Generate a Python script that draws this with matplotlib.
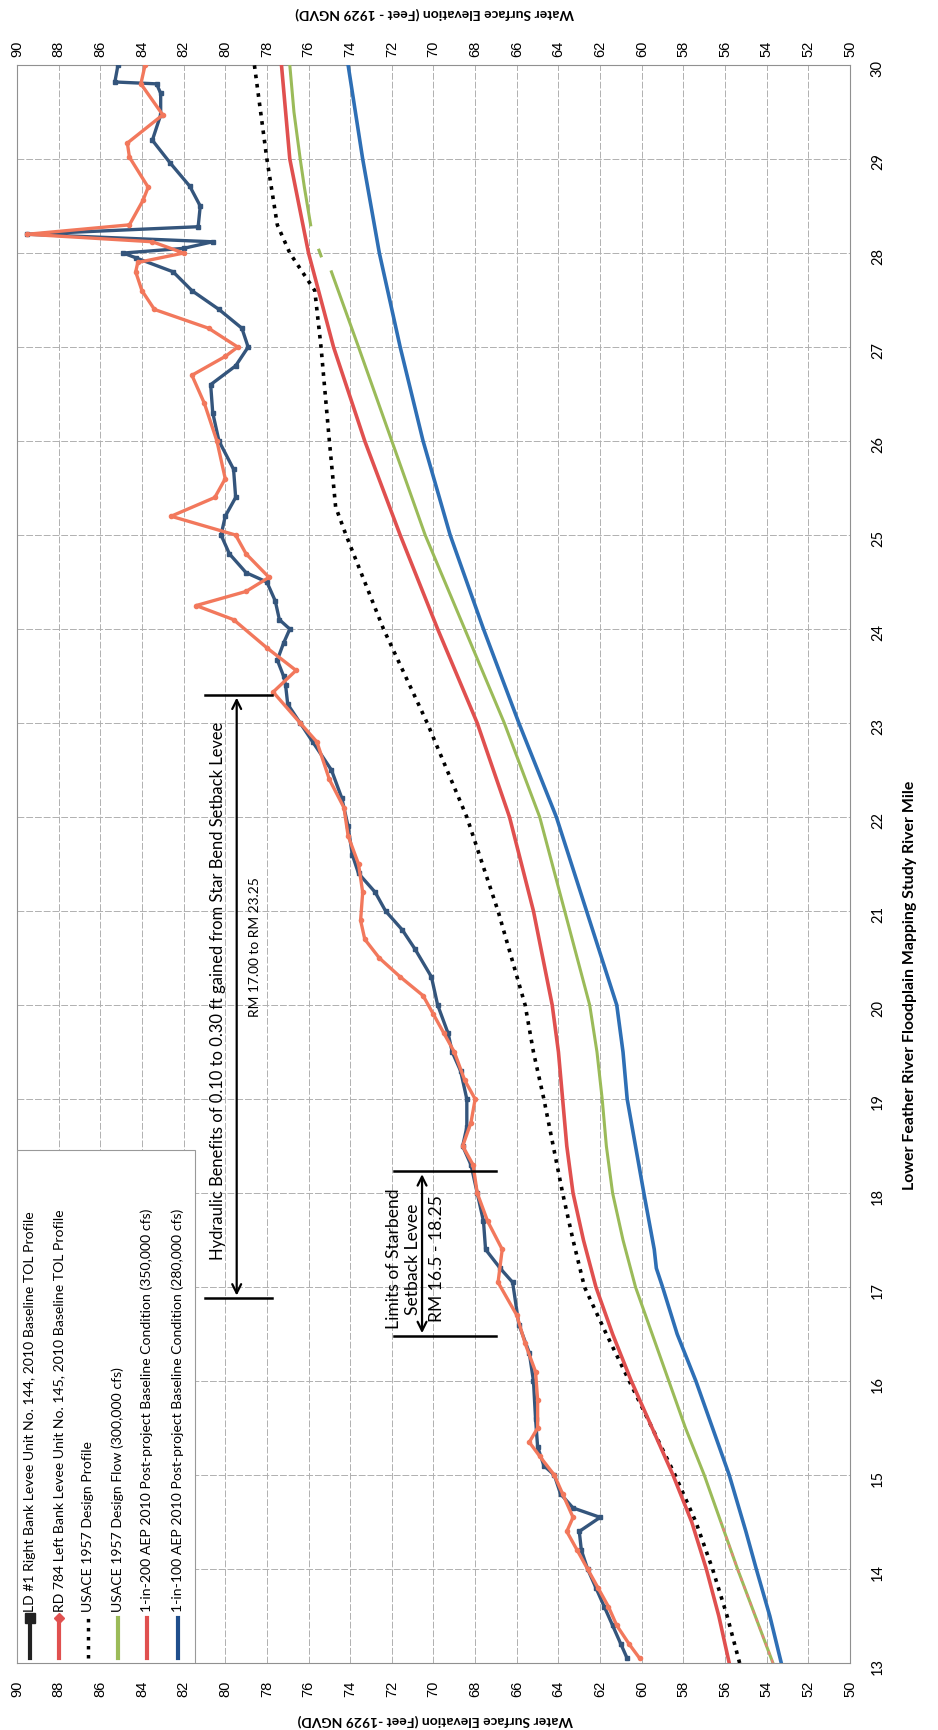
import matplotlib
matplotlib.use('Agg')
import matplotlib.pyplot as plt
from matplotlib.lines import Line2D
from matplotlib.patches import Rectangle

CAL = ['Lato', 'DejaVu Sans']
ARIAL = ['Liberation Sans', 'DejaVu Sans']

# LD #1 right bank levee crown (river mile, elevation)
ld_rm = [13.05, 13.2, 13.4, 13.6, 13.8, 14.0, 14.2, 14.4, 14.55, 14.65, 14.8, 15.0, 15.1, 15.3,
         15.6, 16.0, 16.3, 16.6, 17.05, 17.2, 17.4, 17.7, 18.0, 18.3, 18.5, 18.7, 19.0, 19.3,
         19.5, 19.7, 20.0, 20.3, 20.6, 20.8, 21.0, 21.2, 21.4, 21.6, 21.9, 22.2, 22.5, 22.8,
         23.0, 23.2, 23.4, 23.5, 23.67, 23.85, 24.0, 24.1, 24.3, 24.5, 24.6, 24.8, 25.0, 25.2,
         25.4, 25.7, 26.0, 26.3, 26.6, 26.8, 27.0, 27.2, 27.4, 27.6, 27.8, 27.95, 28.0, 28.05,
         28.12, 28.2, 28.28, 28.5, 28.71, 28.96, 29.2, 29.47, 29.7, 29.8, 29.82, 30.0]
ld_el = [60.7, 61.0, 61.4, 61.8, 62.2, 62.6, 62.9, 63.0, 62.0, 63.3, 63.9, 64.2, 64.7, 65.0,
         65.1, 65.2, 65.4, 65.9, 66.2, 66.8, 67.5, 67.6, 67.9, 68.2, 68.6, 68.4, 68.4, 68.7,
         69.1, 69.3, 69.8, 70.1, 70.9, 71.5, 72.3, 72.8, 73.6, 73.9, 74.1, 74.4, 74.9, 75.8,
         76.4, 77.0, 77.1, 77.2, 77.5, 77.2, 76.9, 77.4, 77.6, 78.0, 79.0, 79.8, 80.2, 80.0,
         79.5, 79.6, 80.3, 80.6, 80.7, 79.5, 78.9, 79.2, 80.3, 81.6, 82.5, 84.3, 84.9, 82.0,
         80.6, 89.5, 81.3, 81.2, 81.7, 82.65, 83.5, 83.1, 83.1, 83.3, 85.3, 85.15]

# RD 784 left bank levee crown
rd_rm = [13.05, 13.2, 13.4, 13.6, 13.8, 14.0, 14.2, 14.4, 14.55, 14.8, 15.0, 15.2, 15.35, 15.5,
         15.8, 16.1, 16.4, 16.7, 17.05, 17.4, 17.7, 18.0, 18.3, 18.5, 18.75, 19.0, 19.2, 19.5,
         19.7, 19.9, 20.1, 20.3, 20.5, 20.7, 20.9, 21.2, 21.5, 21.8, 22.1, 22.4, 22.8, 23.0,
         23.33, 23.56, 23.8, 24.1, 24.25, 24.4, 24.55, 24.8, 25.0, 25.2, 25.4, 25.6, 26.0, 26.4,
         26.7, 26.9, 27.0, 27.2, 27.4, 27.6, 27.8, 27.9, 28.0, 28.12, 28.2, 28.3, 28.56, 28.7,
         29.02, 29.17, 29.47, 29.8, 30.0]
rd_el = [60.1, 60.6, 61.2, 61.6, 62.1, 62.6, 63.1, 63.6, 63.3, 63.8, 64.2, 64.9, 65.4, 65.0,
         65.0, 65.1, 65.6, 66.0, 66.9, 66.7, 67.4, 67.9, 68.1, 68.6, 68.2, 68.0, 68.5, 69.0,
         69.5, 70.0, 70.5, 71.6, 72.6, 73.3, 73.5, 73.4, 73.6, 74.1, 74.3, 75.0, 75.6, 76.4,
         77.7, 76.6, 78.0, 79.6, 81.4, 79.0, 77.9, 79.0, 79.5, 82.6, 80.5, 80.0, 80.4, 81.0,
         81.6, 80.0, 79.4, 80.8, 83.4, 84.0, 84.3, 84.2, 82.0, 83.5, 89.5, 84.6, 83.95, 83.7,
         84.6, 84.7, 83.0, 84.05, 83.85]

# USACE 1957 design profile (dotted)
dp_rm = [13.0, 13.5, 14.0, 14.5, 15.0, 15.5, 16.0, 16.5, 17.0, 17.5, 18.0, 18.5, 19.0, 19.5,
         20.0, 21.0, 22.0, 23.0, 24.0, 25.0, 25.3, 26.0, 27.0, 27.6, 28.0, 28.3, 29.0, 29.5,
         30.0]
dp_el = [55.3, 55.9, 56.6, 57.4, 58.4, 59.5, 60.6, 61.7, 62.75, 63.3, 63.8, 64.25, 64.7, 65.2,
         65.6, 66.9, 68.4, 70.3, 72.4, 74.2, 74.7, 75.0, 75.4, 75.7, 76.9, 77.5, 78.0, 78.3,
         78.6]

# USACE 1957 design flow (300,000 cfs), two pieces plus a short stub near RM 28
df_rm = [13.0, 13.5, 14.0, 14.5, 15.0, 15.5, 16.0, 16.5, 17.0, 17.5, 18.0, 18.5, 19.0, 19.5,
         20.0, 21.0, 22.0, 23.0, 24.0, 25.0, 26.0, 27.0, 27.8]
df_el = [53.7, 54.55, 55.4, 56.2, 57.0, 57.9, 58.7, 59.5, 60.3, 60.9, 61.4, 61.7, 61.9, 62.15,
         62.5, 63.7, 64.9, 66.6, 68.5, 70.4, 72.0, 73.6, 74.9]
df_stub_rm = [27.97, 28.03]
df_stub_el = [75.4, 75.5]
df2_rm = [28.3, 28.7, 29.0, 29.5, 30.0]
df2_el = [75.9, 76.2, 76.4, 76.7, 76.9]

# 1-in-200 AEP 2010 (350,000 cfs)
p200_rm = [13.0, 13.5, 14.0, 14.5, 15.0, 15.5, 16.0, 16.5, 17.0, 17.5, 18.0, 18.5, 19.0, 19.5,
           20.0, 21.0, 22.0, 23.0, 24.0, 25.0, 26.0, 27.0, 28.0, 29.0, 29.5, 30.0]
p200_el = [55.8, 56.3, 56.9, 57.6, 58.5, 59.5, 60.5, 61.4, 62.2, 62.8, 63.3, 63.6, 63.8, 64.0,
           64.3, 65.2, 66.35, 67.9, 69.8, 71.6, 73.3, 74.8, 76.0, 76.9, 77.1, 77.3]

# 1-in-100 AEP 2010 (280,000 cfs)
p100_rm = [13.0, 13.5, 14.0, 14.4, 15.0, 15.5, 16.0, 16.5, 17.0, 17.2, 17.4, 18.0, 18.5, 19.0,
           19.5, 20.0, 21.0, 22.0, 23.0, 24.0, 25.0, 26.0, 27.0, 28.0, 29.0, 30.0]
p100_el = [53.3, 53.85, 54.5, 55.0, 55.8, 56.6, 57.4, 58.3, 59.0, 59.3, 59.4, 59.9, 60.3, 60.7,
           60.9, 61.2, 62.65, 64.1, 65.9, 67.6, 69.2, 70.5, 71.6, 72.6, 73.4, 74.1]

legend_labels = ['LD #1 Right Bank Levee Unit No. 144, 2010 Baseline TOL Profile',
                 'RD 784 Left Bank Levee Unit No. 145, 2010 Baseline TOL Profile',
                 'USACE 1957 Design Profile',
                 'USACE 1957 Design Flow (300,000 cfs)',
                 '1-in-200 AEP 2010 Post-project Baseline Condition (350,000 cfs)',
                 '1-in-100 AEP 2010 Post-project Baseline Condition (280,000 cfs)']

c_ld = '#34557c'
c_rd = '#f2785c'
c_green = '#9bbb59'
c_red = '#e0504f'
c_blue = '#2e6fb5'

fig = plt.figure(figsize=(9.38, 17.30), dpi=100)
ax = fig.add_axes([0.0181, 0.0387, 0.8881, 0.9237])
renderer = fig.canvas.get_renderer()


def fit(t, length):
    # scale a rotated text so that it runs over `length` pixels
    h = t.get_window_extent(renderer).height
    t.set_fontsize(t.get_fontsize() * length / h)


# chart is drawn turned on its side: elevation runs right-to-left, river mile bottom-to-top
ax.plot(dp_el, dp_rm, color='black', lw=2.6, ls=(0, (1, 1.6)), zorder=3)
ax.plot(p100_el, p100_rm, color=c_blue, lw=2.6, zorder=4)
ax.plot(p200_el, p200_rm, color=c_red, lw=2.6, zorder=4)
ax.plot(df_el, df_rm, color=c_green, lw=2.2, zorder=4)
# the scan shows a pinkish dash over the green line at the downstream end
ax.plot(df_el[:4], df_rm[:4], color='#e8827a', lw=1.4, ls=(0, (2, 2.5)), zorder=4)
ax.plot(df_stub_el, df_stub_rm, color=c_green, lw=2.2, zorder=4)
ax.plot(df2_el, df2_rm, color=c_green, lw=2.2, zorder=4)
ax.plot(ld_el, ld_rm, color=c_ld, lw=2.4, marker='s', ms=3.5, zorder=5)
ax.plot(rd_el, rd_rm, color=c_rd, lw=2.4, marker='o', ms=3, zorder=6)

ax.set_xlim(90, 50)
ax.set_ylim(13, 30)
ax.set_xticks(range(50, 91, 2))
ax.set_yticks(range(13, 31))
ax.grid(True, color='#b0b0b0', lw=0.7, ls=(0, (7, 2)))
for s in ax.spines.values():
    s.set_color('#909090')
    s.set_linewidth(0.8)

ax.tick_params(axis='x', length=0, labelrotation=90, pad=13, labelsize=10.5)
for lab in ax.get_xticklabels():
    lab.set_family(ARIAL)
top = ax.secondary_xaxis('top')
top.set_xticks(range(50, 91, 2))
top.tick_params(length=0, labelrotation=90, pad=6, labelsize=10.5)
top.spines['top'].set_visible(False)
for lab in top.get_xticklabels():
    lab.set_family(ARIAL)

ax.yaxis.tick_right()
ax.tick_params(axis='y', length=0, labelrotation=90, pad=15, labelsize=10.5)
for lab in ax.get_yticklabels():
    lab.set_family(CAL)

fig.text(435 / 938, 1 - 13 / 1730, 'Water Surface Elevation (Feet - 1929 NGVD)', rotation=180,
         ha='center', va='center', fontsize=10, fontweight='bold', family=CAL)
fig.text(435 / 938, 1 - 1720 / 1730, 'Water Surface Elevation (Feet -1929 NGVD)', rotation=180,
         ha='center', va='center', fontsize=10, fontweight='bold', family=CAL)
t = fig.text(910 / 938, 1 - 985 / 1730, 'Lower Feather River Floodplain Mapping Study River Mile',
             rotation=90, ha='center', va='center', fontsize=10, fontweight='bold', family=CAL)
fit(t, 410)

# annotations
ax.annotate('', xy=(79.45, 16.88), xytext=(79.45, 23.3),
            arrowprops=dict(arrowstyle='<->', color='black', lw=1.6, mutation_scale=16))
ax.plot([80.97, 77.76], [16.88, 16.88], color='black', lw=1.8, zorder=7)
ax.plot([80.97, 77.76], [23.3, 23.3], color='black', lw=1.8, zorder=7)
t = ax.text(80.35, 20.15, 'Hydraulic Benefits of 0.10 to 0.30 ft gained from Star Bend Setback Levee',
            rotation=90, ha='center', va='center', fontsize=11, family=CAL)
fit(t, 537)
t = ax.text(78.55, 20.62, 'RM 17.00 to RM 23.25', rotation=90, ha='center', va='center',
            fontsize=11, family=CAL)
fit(t, 140)

ax.annotate('', xy=(70.55, 16.48), xytext=(70.55, 18.23),
            arrowprops=dict(arrowstyle='<->', color='black', lw=1.6, mutation_scale=16))
ax.plot([71.9, 67.0], [16.48, 16.48], color='black', lw=1.8, zorder=7)
ax.plot([71.9, 67.0], [18.23, 18.23], color='black', lw=1.8, zorder=7)
t = ax.text(71.9, 17.3, 'Limits of Starbend', rotation=90, ha='center', va='center',
            fontsize=11, family=CAL)
fit(t, 140)
fs = t.get_fontsize()
ax.text(71.0, 17.3, 'Setback Levee', rotation=90, ha='center', va='center',
        fontsize=fs, family=CAL)
ax.text(69.85, 17.3, 'RM 16.5 - 18.25', rotation=90, ha='center', va='center',
        fontsize=fs, family=CAL)

# legend, built by hand so it can lie on its side like the rest of the page
ax.add_patch(Rectangle((0.0, 0.0), 0.214, 0.321, transform=ax.transAxes, facecolor='white',
                       edgecolor='#999999', lw=0.8, zorder=8))
leg_x = [0.0156, 0.0504, 0.0852, 0.1212, 0.1561, 0.1933]
handles = [dict(color='#222222', lw=3, marker='s', ms=7),
           dict(color=c_red, lw=3, marker='D', ms=5),
           dict(color='black', lw=2.5, ls=(0, (1, 1.6))),
           dict(color=c_green, lw=3),
           dict(color=c_red, lw=3),
           dict(color='#1f4e8c', lw=3)]
leg_fs = None
for xx, lab, hs in zip(leg_x, legend_labels, handles):
    ax.add_line(Line2D([xx, xx], [0.003, 0.028], transform=ax.transAxes, zorder=9,
                       markevery=[1] if 'marker' in hs else None, **hs))
    t = ax.text(xx, 0.032, lab, transform=ax.transAxes, rotation=90, ha='center', va='bottom',
                fontsize=10 if leg_fs is None else leg_fs, family=CAL, zorder=9)
    if leg_fs is None:
        fit(t, 400)
        leg_fs = t.get_fontsize()

fig.savefig('out.png', dpi=100)
